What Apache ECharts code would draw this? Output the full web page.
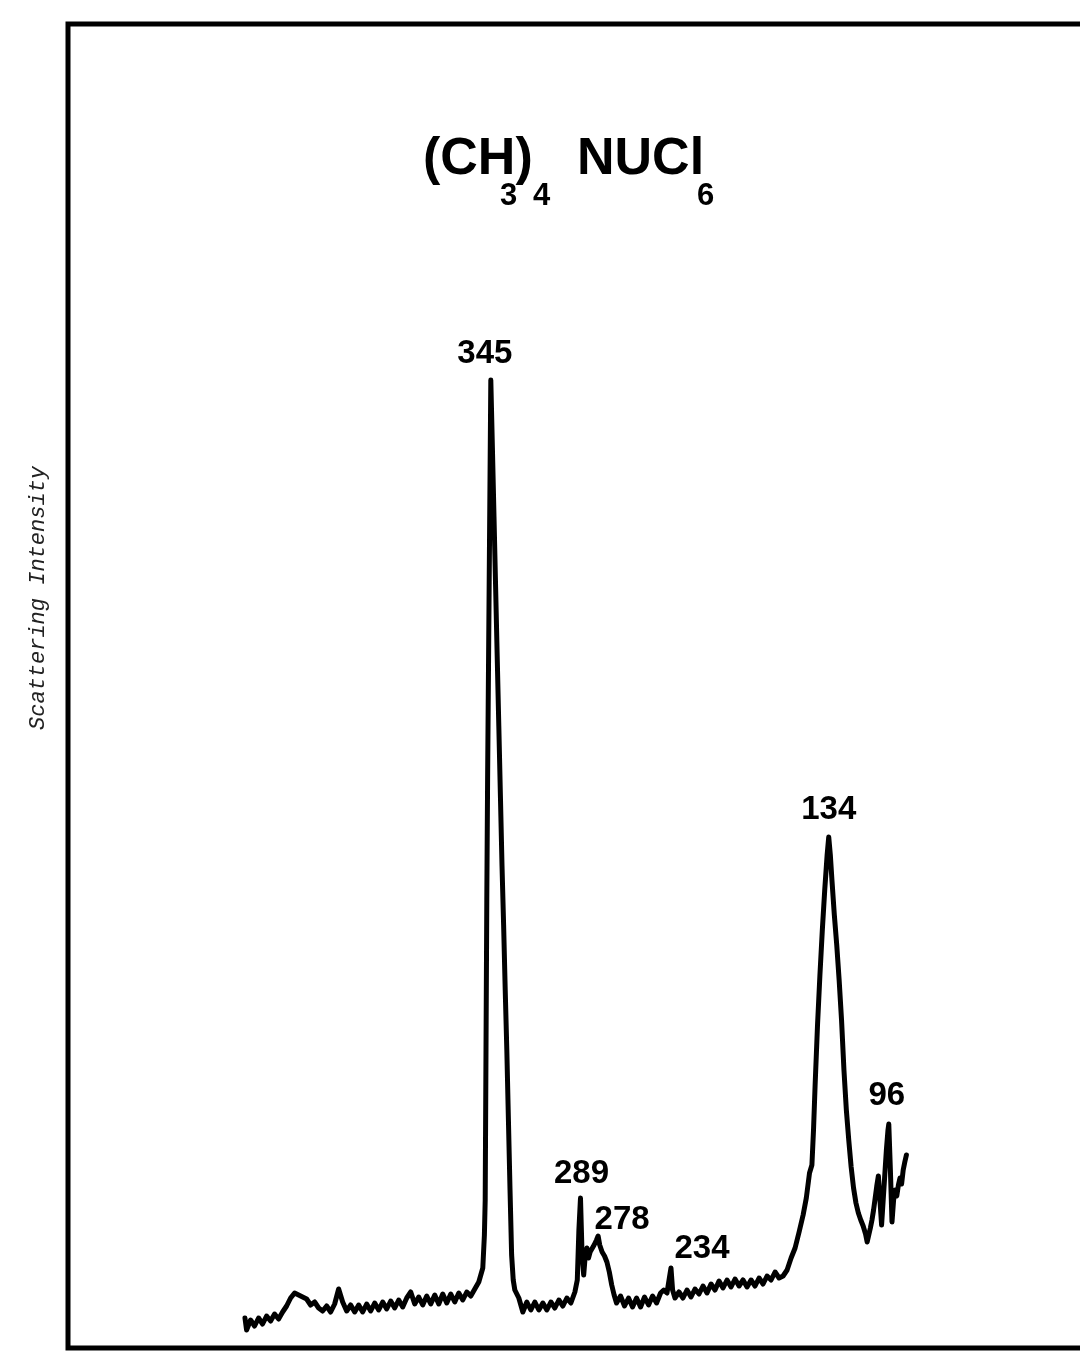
<!DOCTYPE html>
<html>
<head>
<meta charset="utf-8">
<title>(CH3)4NUCl6 Raman</title>
<script src="https://cdn.jsdelivr.net/npm/echarts@6/dist/echarts.min.js"></script>
<style>
  html, body { margin: 0; padding: 0; background: #fff; }
  .spectrum { width: 1080px; height: 1359px; }
</style>
</head>
<body>
<div class="spectrum"></div>
<script>
// wavenumber (cm-1), left (high) to right (low)
var wavenumber = [
  498.5, 497.5, 495, 492.5, 490, 487.5, 485, 482.5, 480, 477.5, 475, 472.5, 470, 467.5, 465, 462.5,
  460, 457.5, 455, 452.5, 450, 447.5, 445, 442.5, 440, 437.5, 435, 432.5, 430, 427.5, 425, 422.5,
  420, 417.5, 415, 412.5, 410, 407.5, 405, 402.5, 400, 397.5, 395, 392.5, 390, 387.5, 385, 382.5,
  380, 377.5, 375, 372.5, 370, 367.5, 365, 362.5, 360, 357.5, 355, 352.5, 350,
  349, 348.5, 348, 347.5, 347, 346, 345, 344, 343, 342, 341, 340, 339, 338, 337, 336, 335, 334,
  333, 332, 331, 330,
  327.5, 325, 322.5, 320, 317.5, 315, 312.5, 310, 307.5, 305, 302.5, 300, 297.5, 295, 292.5,
  291, 290, 289, 288, 287, 286, 285, 284, 283, 282, 280.5, 279, 278, 277, 275.5, 274, 272.5,
  271, 269.5, 268, 266.5,
  264, 261.5, 259, 256.5, 254, 251.5, 249, 246.5, 244, 241.5, 239, 237,
  235, 233.5, 232.5, 231.5, 230,
  227.5, 225, 222.5, 220, 217.5, 215, 212.5, 210, 207.5, 205, 202.5, 200, 197.5, 195, 192.5,
  190, 187.5, 185, 182.5, 180, 177.5, 175, 172.5, 170, 167.5, 165, 162.5, 160, 157.5, 155,
  152.5, 150, 148, 146, 144.5, 143.5, 142.5, 141, 139.5, 138, 136.5, 135, 134,
  133, 132, 130.5, 129, 127.5, 126, 124.5, 123, 121.5, 120, 118.5, 117, 115.5, 114, 112.5,
  111, 110, 109, 108, 107, 106, 105, 104, 103, 102, 101, 100, 99, 98, 97, 96.5,
  95.5, 94.5, 93.5, 92.5, 91.5, 90.5, 89.5, 88.5, 87.5, 86.5, 85.5
];

// scattering intensity (arbitrary units)
var intensity = [
  30, 18, 28, 22, 30, 24, 32, 27, 34, 29, 36, 42, 50, 55, 53, 51,
  49, 43, 46, 40, 37, 42, 36, 44, 59, 46, 37, 43, 36, 43, 36, 44,
  37, 45, 38, 46, 39, 47, 40, 48, 41, 50, 56, 44, 51, 43, 52, 44,
  53, 44, 54, 45, 54, 46, 55, 48, 56, 52, 59, 66, 80,
  113, 148, 298, 448, 568, 768, 968, 900, 831, 761, 691, 622, 552, 482, 423, 358, 298, 228,
  158, 93, 68, 58,
  50, 36, 46, 38, 46, 38, 45, 38, 46, 40, 48, 42, 50, 45, 56,
  68, 118, 150, 93, 73, 93, 100, 90, 96, 98, 103, 108, 112, 103, 96, 92, 86,
  76, 63, 53, 45,
  52, 42, 50, 41, 50, 41, 51, 43, 52, 45, 55, 58,
  55, 70, 80, 58, 50,
  56, 50, 58, 51, 59, 54, 62, 55, 64, 58, 67, 60, 68, 61, 69,
  62, 68, 61, 68, 62, 70, 64, 72, 68, 76, 70, 72, 78, 90, 100,
  116, 133, 150, 175, 183, 218, 263, 323, 373, 418, 458, 493, 511,
  493, 468, 433, 403, 368, 328, 278, 238, 208, 181, 160, 145, 135, 128, 122,
  114, 106, 113, 120, 128, 138, 150, 162, 172, 174, 123, 148, 173, 198, 218, 224,
  178, 126, 148, 158, 152, 163, 170, 164, 178, 186, 193
];

// labelled bands
var peakLabels = ['345', '289', '278', '234', '134', '96'];
var peakWavenumber = [345, 289, 278, 232.5, 134, 96.5];
var peakIntensity = [968, 150, 112, 80, 511, 224];

(function () {
  // 坐标点
  var line = [];
  for (var i = 0; i < wavenumber.length; i++) {
    line.push([wavenumber[i], intensity[i]]);
  }
  // 峰标注的偏移（像素）
  var labelOffset = [[-6, -26], [1, -24], [24, -16], [31, -19], [0, -27], [-2, -28]];
  var peaks = [];
  for (var j = 0; j < peakLabels.length; j++) {
    peaks.push({
      value: [peakWavenumber[j], peakIntensity[j]],
      name: peakLabels[j],
      label: { offset: labelOffset[j] }
    });
  }

  var myChart = echarts.init(document.querySelector('.spectrum'));
  var option = {
    animation: false,
    grid: {
      left: 68,
      top: 24,
      width: 1041,
      bottom: 11,
      // 右边框在画面外，不要把网格收进容器
      outerBoundsMode: 'none',
      show: true,
      borderColor: '#000',
      borderWidth: 5
    },
    xAxis: {
      type: 'value',
      inverse: true,
      min: -41,
      max: 609,
      axisLine: { show: false },
      axisTick: { show: false },
      axisLabel: { show: false },
      splitLine: { show: false }
    },
    yAxis: {
      type: 'value',
      min: 0,
      max: 1324,
      axisLine: { show: false },
      axisTick: { show: false },
      axisLabel: { show: false },
      splitLine: { show: false }
    },
    graphic: [
      // 标题 (CH3)4NUCl6, 下标位置照原图
      { type: 'text', left: 423, top: 134, style: { text: '(CH)', font: 'bold 52px "Liberation Sans"', fill: '#000' } },
      { type: 'text', left: 500, top: 181, style: { text: '3', font: 'bold 31px "Liberation Sans"', fill: '#000' } },
      { type: 'text', left: 533, top: 181, style: { text: '4', font: 'bold 31px "Liberation Sans"', fill: '#000' } },
      { type: 'text', left: 577, top: 134, style: { text: 'NUCl', font: 'bold 52px "Liberation Sans"', fill: '#000' } },
      { type: 'text', left: 697, top: 181, style: { text: '6', font: 'bold 31px "Liberation Sans"', fill: '#000' } },
      // y轴名称
      {
        type: 'text',
        x: 38,
        y: 598,
        rotation: Math.PI / 2,
        style: {
          text: 'Scattering Intensity',
          font: 'italic 22px "Liberation Mono"',
          fill: '#222',
          align: 'center',
          verticalAlign: 'middle'
        }
      }
    ],
    series: [
      {
        name: 'spectrum',
        type: 'line',
        data: line,
        showSymbol: false,
        smooth: false,
        lineStyle: {
          color: '#000',
          width: 5,
          join: 'round',
          cap: 'round'
        }
      },
      {
        name: 'peaks',
        type: 'scatter',
        data: peaks,
        symbolSize: 1,
        // 散点默认透明度0.8，会让标签发灰
        itemStyle: { color: 'rgba(0,0,0,0)', opacity: 1 },
        label: {
          show: true,
          position: 'inside',
          formatter: '{b}',
          color: '#000',
          fontFamily: 'Liberation Sans',
          fontWeight: 'bold',
          fontSize: 33
        },
        z: 5
      }
    ]
  };
  myChart.setOption(option);
  window.addEventListener('resize', function () {
    myChart.resize();
  });
})();
</script>
</body>
</html>
